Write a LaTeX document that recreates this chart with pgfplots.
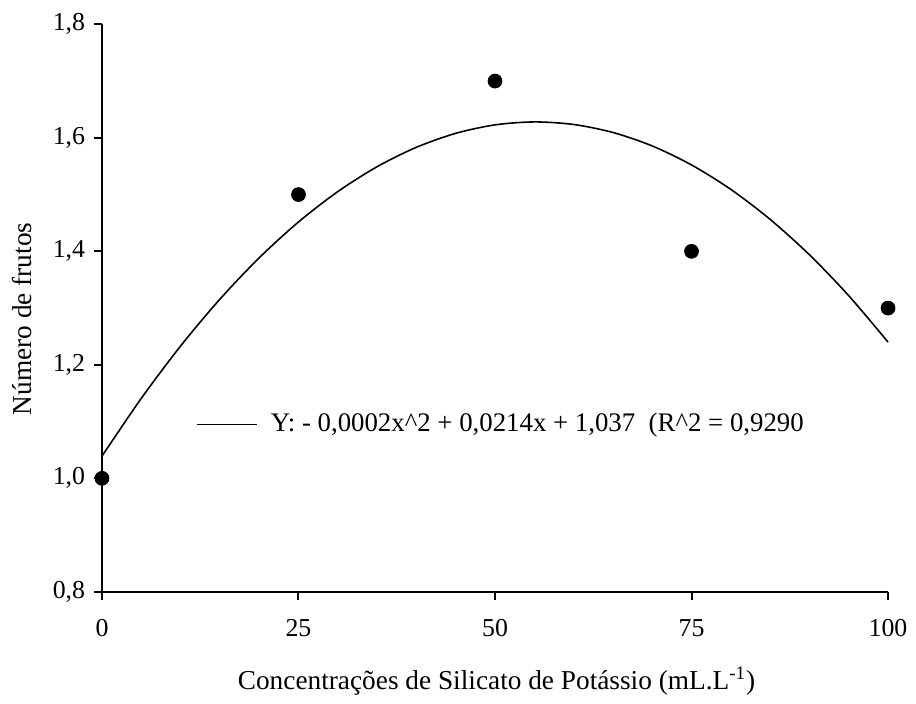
\documentclass[border=0pt]{standalone}
\usepackage{fontspec}
\setmainfont{Liberation Serif}
\usepackage{pgfplots}
\pgfplotsset{compat=1.18}

\begin{document}
\fontsize{13}{15.5}\selectfont
\begin{tikzpicture}
\begin{axis}[
  scale only axis,
  width=395.8pt, height=285.75pt,
  xmin=0, xmax=100, ymin=0.8, ymax=1.8,
  axis x line*=bottom, axis y line*=left,
  axis line style={line width=1pt, black},
  tick align=outside,
  major tick length=4pt,
  tick style={line width=1pt, black},
  xtick={0,25,50,75,100},
  ytick={0.8,1.0,1.2,1.4,1.6,1.8},
  /pgf/number format/assume math mode=true,
  yticklabel style={/pgf/number format/.cd, use comma, fixed, fixed zerofill, precision=1},
  xticklabel style={yshift=-5.5pt},
  xlabel={Concentrações de Silicato de Potássio (mL.L\textsuperscript{-1})},
  ylabel={Número de frutos},
  label style={font=\fontsize{13.75}{16.5}\selectfont},
  xlabel style={at={(axis description cs:0.502,-0.172)}, anchor=base},
  ylabel style={at={(axis description cs:-0.0897,0.481)}, anchor=base},
  clip=false,
  legend style={at={(axis cs:11.9,1.095)}, anchor=west, draw=none, fill=none,
    inner sep=0pt, font=\fontsize{13.5}{16}\selectfont},
  legend image code/.code={\draw[#1, line width=0.8pt] (0pt,0pt) -- (30.5pt,0pt); \path (35pt,0pt);},
]
% fitted quadratic curve
\addplot[black, line width=0.8pt, smooth] coordinates {
  (0,1.0390) (5,1.1409) (10,1.2331) (15,1.3156) (20,1.3885) (25,1.4517)
  (30,1.5052) (35,1.5491) (40,1.5833) (45,1.6079) (50,1.6228) (55,1.6280)
  (60,1.6235) (65,1.6094) (70,1.5857) (75,1.5522) (80,1.5091) (85,1.4563)
  (90,1.3939) (95,1.3218) (100,1.2400)
};
\addlegendentry{Y: - 0,0002x\textasciicircum 2 + 0,0214x + 1,037\ \ (R\textasciicircum 2 = 0,9290}
% observed means
\addplot[only marks, mark=*, mark size=3.5pt, black, forget plot] coordinates {
  (0,1.0) (25,1.5) (50,1.7) (75,1.4) (100,1.3)
};
\end{axis}
\path (current axis.south west) ++(-51.35pt,-52pt) rectangle ++(458pt,350pt);
\end{tikzpicture}
\end{document}
